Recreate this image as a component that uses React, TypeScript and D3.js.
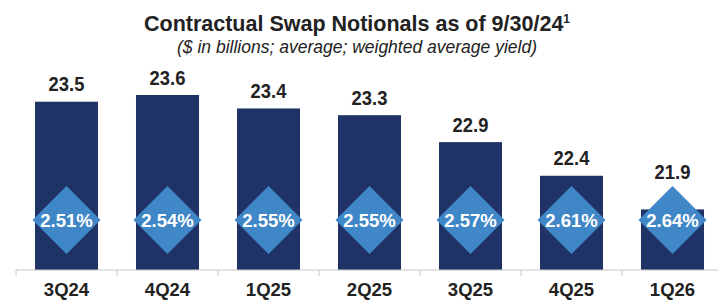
import * as d3 from "d3";
import React from "react";

const categories = ["3Q24", "4Q24", "1Q25", "2Q25", "3Q25", "4Q25", "1Q26"];
const notionals = [23.5, 23.6, 23.4, 23.3, 22.9, 22.4, 21.9];
const yields = ["2.51%", "2.54%", "2.55%", "2.55%", "2.57%", "2.61%", "2.64%"];

const width = 718;
const height = 301;
const baseline = 270;
const font = "'Liberation Sans', Arial, sans-serif";

export default function App() {
  const x = d3.scaleBand<string>().domain(categories).range([16, 723]).paddingInner(0.376).paddingOuter(0.188);
  const y = d3.scaleLinear().domain([21, 23.6]).range([baseline, 95]);
  const step = x.step();
  const diamondY = 220;
  const r = 34;

  return (
    <svg width={width} height={height} style={{ position: "absolute", left: 0, top: 0 }} fontFamily={font}>
      <rect width={width} height={height} fill="#fff" />
      <text x={357} y={31} textAnchor="middle" fontSize={21.5} fontWeight="bold" fill="#222">
        Contractual Swap Notionals as of 9/30/24
        <tspan fontSize={12} dy={-8}>1</tspan>
      </text>
      <text x={357} y={53} textAnchor="middle" fontSize={17.5} fontStyle="italic" fill="#222">
        ($ in billions; average; weighted average yield)
      </text>

      {categories.map((c, i) => {
        const cx = x(c)! + x.bandwidth() / 2;
        const top = y(notionals[i]);
        const labelY = Math.min(top - 10.5, diamondY - r - 7);
        return (
          <g key={c}>
            <rect x={x(c)} y={top} width={x.bandwidth()} height={baseline - top} fill="#1f3366" />
            <text
              transform={`translate(${cx},${labelY}) scale(0.92,1)`}
              textAnchor="middle"
              fontSize={20}
              fontWeight="bold"
              fill="#222"
            >
              {notionals[i].toFixed(1)}
            </text>
            <path
              d={`M${cx},${diamondY - r}L${cx + r},${diamondY}L${cx},${diamondY + r}L${cx - r},${diamondY}Z`}
              fill="#3f87c6"
            />
            <text x={cx} y={diamondY + 7} textAnchor="middle" fontSize={18.5} fontWeight="bold" fill="#fff">
              {yields[i]}
            </text>
            <text x={cx} y={296} textAnchor="middle" fontSize={18.5} fontWeight="bold" fill="#222">
              {c}
            </text>
          </g>
        );
      })}

      <line x1={16} x2={width} y1={baseline} y2={baseline} stroke="#c8c8c8" strokeWidth={1} />
      {d3.range(categories.length + 1).map((i) => (
        <line key={i} x1={16 + i * step} x2={16 + i * step} y1={baseline} y2={baseline + 6} stroke="#c8c8c8" />
      ))}
    </svg>
  );
}
